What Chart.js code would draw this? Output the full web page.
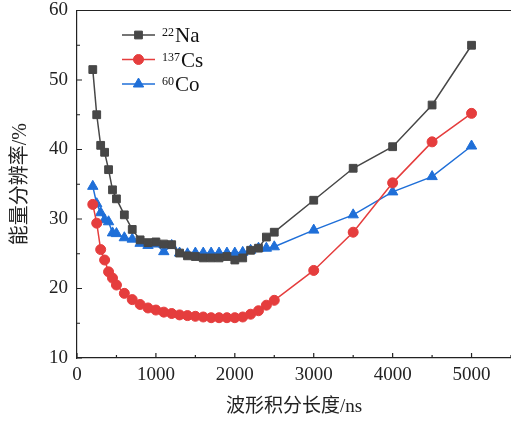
<!DOCTYPE html>
<html>
<head>
<meta charset="utf-8">
<script src="https://cdn.jsdelivr.net/npm/chart.js@4"></script>
<style>
  html, body { margin: 0; padding: 0; background: #fff; }
  #wrap { width: 511px; height: 423px; }
</style>
</head>
<body>
<div id="wrap"><canvas id="chartResolution"></canvas></div>
<script>
// integration length (ns)
var lengths = [200, 250, 300, 350, 400, 450, 500, 600, 700, 800, 900, 1000, 1100, 1200, 1300, 1400,
  1500, 1600, 1700, 1800, 1900, 2000, 2100, 2200, 2300, 2400, 2500, 3000, 3500, 4000, 4500, 5000];

// energy resolution (%)
var na22 = [51.5, 45.0, 40.6, 39.6, 37.1, 34.2, 32.9, 30.6, 28.5, 27.0, 26.6, 26.7, 26.4, 26.3, 25.1, 24.7,
  24.6, 24.4, 24.4, 24.4, 24.6, 24.1, 24.4, 25.5, 25.8, 27.4, 28.1, 32.7, 37.3, 40.4, 46.4, 55.0];
var cs137 = [32.1, 29.4, 25.6, 24.1, 22.4, 21.5, 20.5, 19.3, 18.4, 17.7, 17.2, 16.9, 16.6, 16.4, 16.2, 16.1,
  16.0, 15.9, 15.8, 15.8, 15.8, 15.8, 15.9, 16.3, 16.8, 17.6, 18.3, 22.6, 28.1, 35.2, 41.1, 45.2];
var co60 = [34.7, 32.2, 30.9, 29.9, 29.6, 28.0, 27.9, 27.3, 27.1, 26.5, 26.2, 26.4, 25.3, 26.2, 25.1, 25.0,
  25.1, 25.1, 25.1, 25.1, 25.1, 25.1, 25.2, 25.5, 25.8, 25.8, 26.0, 28.4, 30.6, 33.9, 36.1, 40.5];

var xTicks = [0, 1000, 2000, 3000, 4000, 5000];
var yTicks = [10, 20, 30, 40, 50, 60];

var seriesNames = [['22', 'Na'], ['137', 'Cs'], ['60', 'Co']];
var xTitle = '波形积分长度/ns';
var yTitle = '能量分辨率/%';

var serif = '"Liberation Serif", "Noto Sans CJK SC", serif';

function toPoints(ys) {
  return lengths.map(function (x, i) { return { x: x, y: ys[i] }; });
}

function fixedTicks(values) {
  return function (scale) {
    scale.ticks = values.map(function (v) { return { value: v }; });
  };
}

// inward ticks, top frame line and the legend box
var framePlugin = {
  id: 'frame',
  afterDraw: function (chart) {
    var ctx = chart.ctx;
    var area = chart.chartArea;
    var xs = chart.scales.x, ys = chart.scales.y;
    ctx.save();
    ctx.strokeStyle = '#222';
    ctx.lineWidth = 1.2;
    ctx.beginPath();
    ctx.moveTo(area.left, area.top);
    ctx.lineTo(area.right, area.top);
    for (var v = 0; v <= 5500; v += 500) {
      var px = xs.getPixelForValue(v);
      var len = v % 1000 === 0 ? 5 : 3;
      ctx.moveTo(px, area.bottom);
      ctx.lineTo(px, area.bottom - len);
    }
    for (var w = 10; w <= 60; w += 5) {
      var py = ys.getPixelForValue(w);
      var l2 = w % 10 === 0 ? 5 : 3;
      ctx.moveTo(area.left, py);
      ctx.lineTo(area.left + l2, py);
    }
    ctx.stroke();

    // legend
    chart.data.datasets.forEach(function (ds, i) {
      var y = 35 + i * 24.5;
      ctx.strokeStyle = ds.borderColor;
      ctx.lineWidth = 1.5;
      ctx.beginPath();
      ctx.moveTo(122, y);
      ctx.lineTo(155, y);
      ctx.stroke();
      ctx.fillStyle = ds.pointBackgroundColor;
      ctx.strokeStyle = ds.pointBorderColor;
      ctx.lineWidth = 1;
      Chart.helpers.drawPoint(ctx, {
        pointStyle: ds.pointStyle,
        radius: ds.pointRadius,
        borderWidth: 1
      }, 138.5, y);
      ctx.fillStyle = '#111';
      ctx.textBaseline = 'alphabetic';
      ctx.font = '12px ' + serif;
      var sup = seriesNames[i][0];
      ctx.fillText(sup, 162, y + 1);
      var sw = ctx.measureText(sup).width;
      ctx.font = '21px ' + serif;
      ctx.fillText(seriesNames[i][1], 162 + sw + 1, y + 7);
    });
    ctx.restore();
  }
};

function makeSet(label, ys, color, style, radius) {
  return {
    label: label,
    data: toPoints(ys),
    borderColor: color,
    backgroundColor: color,
    pointBackgroundColor: color,
    pointBorderColor: color,
    pointStyle: style,
    pointRadius: radius,
    pointBorderWidth: 1,
    borderWidth: 1.5,
    tension: 0
  };
}

var config = {
  type: 'line',
  data: {
    datasets: [
      makeSet('22Na', na22, '#474747', 'rect', 5.5),
      makeSet('137Cs', cs137, '#e53d3d', 'circle', 5),
      makeSet('60Co', co60, '#1f6fd8', 'triangle', 6)
    ]
  },
  options: {
    responsive: false,
    animation: false,
    layout: {
      autoPadding: false,
      padding: { left: 0, right: 0, top: 10.5, bottom: 0 }
    },
    plugins: {
      legend: { display: false },
      tooltip: { enabled: false }
    },
    scales: {
      x: {
        type: 'linear',
        min: 0,
        max: 5500,
        afterBuildTicks: fixedTicks(xTicks),
        afterFit: function (scale) {
          scale.height = 65;
          scale.paddingLeft = 0;
          scale.paddingRight = 0;
        },
        grid: { display: false, drawTicks: false },
        border: { display: true, color: '#222', width: 1.2 },
        ticks: {
          maxRotation: 0,
          autoSkip: false,
          padding: 6,
          color: '#222',
          font: { family: serif, size: 19 },
          callback: function (v) { return String(v); }
        },
        title: {
          display: true,
          text: xTitle,
          color: '#222',
          font: { family: serif, size: 19 },
          padding: { top: 0, bottom: 5 }
        }
      },
      y: {
        type: 'linear',
        min: 10,
        max: 60,
        afterBuildTicks: fixedTicks(yTicks),
        afterFit: function (scale) {
          scale.width = 77;
          scale.paddingTop = 0;
          scale.paddingBottom = 0;
        },
        grid: { display: false, drawTicks: false },
        border: { display: true, color: '#222', width: 1.2 },
        ticks: {
          autoSkip: false,
          padding: 9,
          color: '#222',
          font: { family: serif, size: 19 }
        },
        title: {
          display: true,
          text: yTitle,
          color: '#222',
          font: { family: serif, size: 20 },
          padding: { top: 9, bottom: 0 }
        }
      }
    }
  },
  plugins: [framePlugin]
};

var canvas = document.getElementById('chartResolution');
canvas.width = 511;
canvas.height = 423;
var chart = new Chart(canvas.getContext('2d'), config);
</script>
</body>
</html>
